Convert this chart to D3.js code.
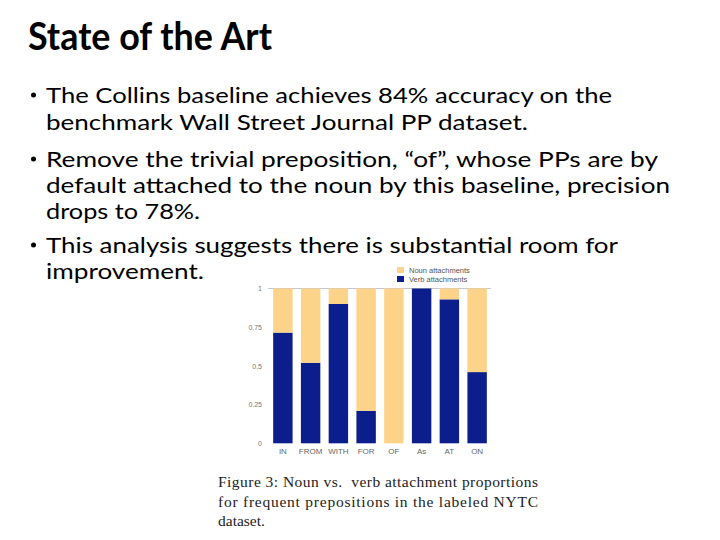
<!DOCTYPE html>
<html>
<head>
<meta charset="utf-8">
<script src="https://cdn.jsdelivr.net/npm/d3@7"></script>
<style>
  body { margin: 0; background: #fff; }
  svg { display: block; }
</style>
</head>
<body>
<div class="chart-div"></div>
<script>
// chart data
const prepositions = ["IN", "FROM", "WITH", "FOR", "OF", "As", "AT", "ON"];
const verbShare = [0.715, 0.52, 0.90, 0.21, 0, 1.0, 0.93, 0.46];
const nounShare = [0.285, 0.48, 0.10, 0.79, 1.0, 0, 0.07, 0.54];
const seriesNames = ["Noun attachments", "Verb attachments"];
const yTickValues = [0, 0.25, 0.5, 0.75, 1];
const yTickLabels = ["0", "0.25", "0.5", "0.75", "1"];

// slide text
const titleText = "State of the Art";
const bulletLines = [
  "The Collins baseline achieves 84% accuracy on the",
  "benchmark Wall Street Journal PP dataset.",
  "Remove the trivial preposition, \u201cof\u201d, whose PPs are by",
  "default attached to the noun by this baseline, precision",
  "drops to 78%.",
  "This analysis suggests there is substantial room for",
  "improvement."
];
const bulletStarts = [true, false, true, false, false, true, false];
const captionLines = [
  "Figure 3: Noun vs.  verb attachment proportions",
  "for frequent prepositions in the labeled NYTC",
  "dataset."
];

const W = 720, H = 540;
const navy = "#0c1d8c", tan = "#fcd389";

const svg = d3.select(".chart-div")
  .append("svg")
  .attr("width", W)
  .attr("height", H);

svg.append("rect").attr("width", W).attr("height", H).attr("fill", "#fff");

// title
svg.append("text")
  .attr("x", 28).attr("y", 50)
  .attr("font-family", "Lato, 'Open Sans', sans-serif")
  .attr("font-weight", "bold")
  .attr("font-size", 39)
  .attr("textLength", 244)
  .attr("lengthAdjust", "spacingAndGlyphs")
  .text(titleText);

// bullets
const lineY = [103, 130, 167, 193, 219, 253, 279];
const lineW = [566, 482, 612, 624, 154, 572, 158];
const body = svg.append("g")
  .attr("font-family", "Lato, 'Open Sans', sans-serif")
  .attr("font-size", 22)
  .attr("fill", "#000");

body.selectAll("text.line")
  .data(bulletLines).enter()
  .append("text")
  .attr("class", "line")
  .attr("x", 46)
  .attr("y", (d, i) => lineY[i])
  .attr("textLength", (d, i) => lineW[i])
  .attr("lengthAdjust", "spacingAndGlyphs")
  .text(d => d);

body.selectAll("circle.dot")
  .data(lineY.filter((y, i) => bulletStarts[i])).enter()
  .append("circle")
  .attr("class", "dot")
  .attr("cx", 33.5)
  .attr("cy", d => d - 8)
  .attr("r", 2.5);

// bar chart
const x = d3.scaleBand()
  .domain(prepositions)
  .range([269, 491])
  .paddingInner(0.3)
  .paddingOuter(0.15);

const y = d3.scaleLinear()
  .domain([0, 1])
  .range([443.3, 288.5]);

const table = prepositions.map((p, i) => ({ prep: p, verb: verbShare[i], noun: nounShare[i] }));
const stacked = d3.stack().keys(["verb", "noun"])(table);
const colors = { verb: navy, noun: tan };

svg.append("line")
  .attr("x1", 268).attr("x2", 491)
  .attr("y1", y(1)).attr("y2", y(1))
  .attr("stroke", "#c8c8c8")
  .attr("stroke-width", 1);

svg.append("g")
  .selectAll("g")
  .data(stacked).enter()
  .append("g")
  .attr("fill", d => colors[d.key])
  .selectAll("rect")
  .data(d => d).enter()
  .append("rect")
  .attr("x", d => x(d.data.prep))
  .attr("y", d => y(d[1]))
  .attr("width", x.bandwidth())
  .attr("height", d => y(d[0]) - y(d[1]));

const yAxis = d3.axisLeft(y)
  .tickValues(yTickValues)
  .tickFormat((d, i) => yTickLabels[i])
  .tickSize(0)
  .tickPadding(0);

const yg = svg.append("g")
  .attr("transform", "translate(262, 0)")
  .call(yAxis);
yg.select(".domain").remove();
yg.selectAll("text")
  .attr("font-family", "Arial, 'Liberation Sans', sans-serif")
  .attr("font-size", 7)
  .attr("fill", "#777");

const xAxis = d3.axisBottom(x).tickSize(0).tickPadding(0);
const xg = svg.append("g")
  .attr("transform", "translate(0, 448)")
  .call(xAxis);
xg.select(".domain").remove();
xg.selectAll("text")
  .attr("font-family", "Arial, 'Liberation Sans', sans-serif")
  .attr("font-size", 8)
  .attr("fill", "#666");

// legend
const legend = svg.append("g").attr("transform", "translate(397, 267)");
const legendColors = [tan, navy];
legend.selectAll("rect")
  .data(seriesNames).enter()
  .append("rect")
  .attr("x", 0)
  .attr("y", (d, i) => i * 9)
  .attr("width", 7)
  .attr("height", 6)
  .attr("fill", (d, i) => legendColors[i]);
legend.selectAll("text")
  .data(seriesNames).enter()
  .append("text")
  .attr("x", 12)
  .attr("y", (d, i) => i * 9 + 6)
  .attr("font-family", "Arial, 'Liberation Sans', sans-serif")
  .attr("font-size", 7.5)
  .attr("fill", "#555")
  .text(d => d);

// caption
const capY = [487, 506.5, 526];
svg.append("g")
  .attr("font-family", "'Liberation Serif', 'Times New Roman', serif")
  .attr("font-size", 15.5)
  .attr("fill", "#222")
  .selectAll("text")
  .data(captionLines).enter()
  .append("text")
  .attr("x", 218)
  .attr("y", (d, i) => capY[i])
  .attr("textLength", (d, i) => i < 2 ? 320 : null)
  .attr("lengthAdjust", "spacing")
  .attr("xml:space", "preserve")
  .text(d => d);
</script>
</body>
</html>
